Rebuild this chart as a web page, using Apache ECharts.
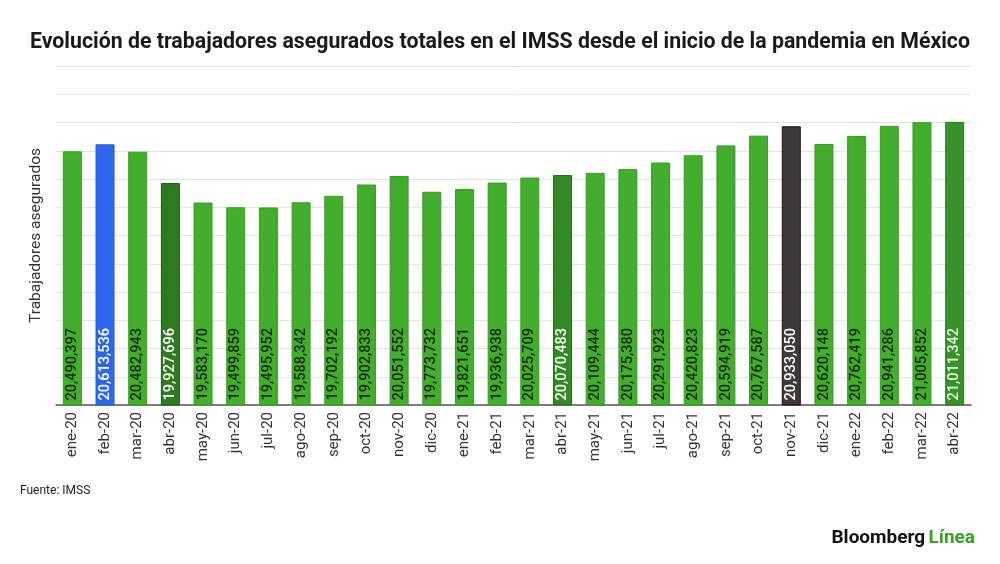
<!DOCTYPE html>
<html>
<head>
<meta charset="utf-8">
<script src="https://cdn.jsdelivr.net/npm/echarts@6/dist/echarts.min.js"></script>
<style>html,body{margin:0;padding:0;background:#fff;}#c{width:1000px;height:564px;}</style>
</head>
<body>
<div id="c"></div>
<script>
const categories = ["ene-20","feb-20","mar-20","abr-20","may-20","jun-20","jul-20","ago-20","sep-20","oct-20","nov-20","dic-20","ene-21","feb-21","mar-21","abr-21","may-21","jun-21","jul-21","ago-21","sep-21","oct-21","nov-21","dic-21","ene-22","feb-22","mar-22","abr-22"];
const values = [20490397,20613536,20482943,19927696,19583170,19499859,19495952,19588342,19702192,19902833,20051552,19773732,19821651,19936938,20025709,20070483,20109444,20175380,20291923,20420823,20594919,20767587,20933050,20620148,20762419,20941286,21005852,21011342];
const highlights = {"feb-20":["#2f66f0","#2558d8","#ffffff"],"abr-20":["#2e7a1f","#1f5a14","#ffffff"],"abr-21":["#318a24","#246c1a","#ffffff"],"nov-21":["#3d3a37","#111111","#ffffff"],"abr-22":["#37922a","#2a7a20","#e8f5e0"]};

const chart = echarts.init(document.getElementById('c'));
const data = categories.map((c,i)=>{
  const h = highlights[c];
  return {
    value: values[i],
    itemStyle: h ? {color:h[0], borderColor:h[1], borderWidth:1} : {color:'#43ad2c', borderColor:'#3a9b27', borderWidth:1},
    label: {color: h ? h[2] : '#1c2a14'}
  };
});
chart.setOption({
  animation:false,
  title:{text:'Evolución de trabajadores asegurados totales en el IMSS desde el inicio de la pandemia en México',left:'center',top:27,textStyle:{fontFamily:'Roboto',fontWeight:'bold',fontSize:21.3,color:'#1a1a1a'}},
  grid:{left:56,right:29,top:66,bottom:159},
  xAxis:{type:'category',data:categories,
    axisLine:{lineStyle:{color:'#555',width:1.5}},axisTick:{show:false},
    axisLabel:{rotate:90,fontFamily:'Roboto',fontSize:15,color:'#333',margin:7,interval:0}},
  yAxis:{type:'value',min:16000000,max:22000000,interval:500000,
    axisLabel:{show:false},axisLine:{show:false},axisTick:{show:false},
    splitLine:{lineStyle:{color:'#e2e2e2'}},
    name:'Trabajadores asegurados',nameLocation:'middle',nameGap:12,nameRotate:90,
    nameTextStyle:{fontFamily:'Roboto',fontSize:15.5,color:'#333'}},
  series:[{type:'bar',data:data,barWidth:19,
    label:{show:true,position:'insideBottom',rotate:90,align:'left',verticalAlign:'middle',distance:5,
      fontFamily:'Roboto',fontSize:14.5,fontWeight:500,
      formatter:p=>p.value.toLocaleString('en-US')}}],
  graphic:[
    {type:'text',left:20,top:485,style:{text:'Fuente: IMSS',font:'12px Roboto',fill:'#222'}},
    {type:'text',right:25,top:529,style:{text:'{a|Bloomberg} {b|Línea}',
      rich:{a:{font:'bold 19px Roboto',fill:'#111',color:'#111'},b:{font:'bold 19px Roboto',fill:'#3aa02a',color:'#3aa02a'}}}}
  ]
});
</script>
</body>
</html>
